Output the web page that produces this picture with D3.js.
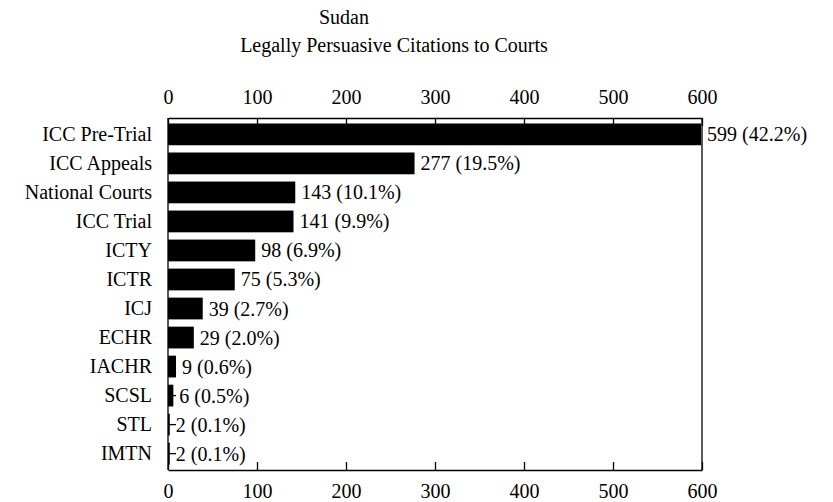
<!DOCTYPE html>
<html><head><meta charset="utf-8">
<script src="https://cdn.jsdelivr.net/npm/d3@7"></script>
<style>body{margin:0;background:#fff}text{font-family:"Liberation Serif","Times New Roman",serif;fill:#000}</style>
</head><body><svg id="c" width="833" height="502"></svg>
<script>
const categories=["ICC Pre-Trial","ICC Appeals","National Courts","ICC Trial","ICTY","ICTR","ICJ","ECHR","IACHR","SCSL","STL","IMTN"];
const values=[599,277,143,141,98,75,39,29,9,6,2,2];
const pctLabels=["42.2%","19.5%","10.1%","9.9%","6.9%","5.3%","2.7%","2.0%","0.6%","0.5%","0.1%","0.1%"];
const ticks=[0,100,200,300,400,500,600];
const svg=d3.select("#c");
const L=168,R=702,T=118,B=470;
const x=d3.scaleLinear().domain([0,600]).range([L,R]);
const y=d3.scaleBand().domain(categories).range([T+2,B-2]).paddingInner(0.25).paddingOuter(0.12);
svg.append("text").attr("x",344).attr("y",24).attr("text-anchor","middle").attr("font-size",20).text("Sudan");
svg.append("text").attr("x",394).attr("y",52).attr("text-anchor","middle").attr("font-size",20).text("Legally Persuasive Citations to Courts");
const gTop=svg.append("g").attr("transform",`translate(0,${T})`).call(d3.axisTop(x).tickValues(ticks).tickSizeInner(-8).tickSizeOuter(0).tickPadding(14));
const gBot=svg.append("g").attr("transform",`translate(0,${B})`).call(d3.axisBottom(x).tickValues(ticks).tickSizeInner(-8).tickSizeOuter(0).tickPadding(14));
const gLeft=svg.append("g").attr("transform",`translate(${L},0)`).call(d3.axisLeft(y).tickSizeInner(-8).tickSizeOuter(0).tickPadding(16));
[gTop,gBot,gLeft].forEach(g=>{g.selectAll("text").attr("font-size",20).style("font-family",'"Liberation Serif",serif');g.selectAll("path,line").attr("stroke","#000").attr("stroke-width",1.3);});
gLeft.select(".domain").attr("d",`M0,${T}V${B}`);
svg.append("line").attr("x1",R).attr("x2",R).attr("y1",T).attr("y2",B).attr("stroke","#000").attr("stroke-width",1.3);
svg.selectAll("rect.b").data(values).join("rect").attr("x",x(0)).attr("y",(d,i)=>y(categories[i])).attr("width",d=>x(d)-x(0)).attr("height",y.bandwidth()).attr("fill","#000");
svg.selectAll("text.v").data(values).join("text").attr("x",d=>x(d)+6).attr("y",(d,i)=>y(categories[i])+y.bandwidth()/2).attr("dy","0.35em").attr("font-size",20).text((d,i)=>`${d} (${pctLabels[i]})`);
</script></body></html>
